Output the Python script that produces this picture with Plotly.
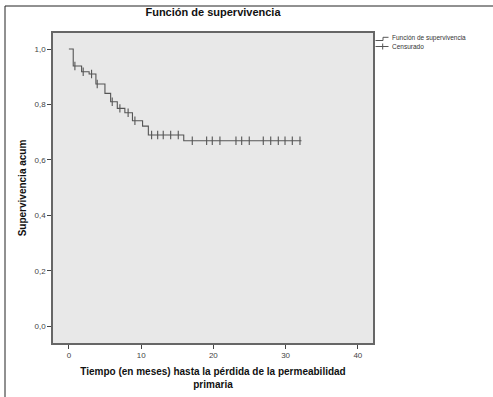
import plotly.graph_objects as go

# Kaplan-Meier step data (event times and survival after each event)
event_times = [0, 0.6, 1.76, 2.8, 3.74, 4.99, 5.78, 6.7, 7.75, 8.8, 10.2, 11.0, 15.9, 32.2]
survival = [1.0, 0.939, 0.918, 0.910, 0.874, 0.840, 0.810, 0.786, 0.770, 0.741, 0.722, 0.690, 0.669, 0.669]

# Censored observations
censor_times = [0.83, 1.98, 3.14, 3.92, 6.0, 7.06, 8.2, 9.14,
                11.45, 12.29, 13.06, 14.09, 15.14,
                17.08, 19.07, 19.85, 20.91, 23.13, 23.92, 24.97,
                26.91, 27.94, 28.99, 29.92, 30.93, 31.99]
censor_surv = [0.939, 0.918, 0.910, 0.874, 0.810, 0.786, 0.770, 0.741,
               0.690, 0.690, 0.690, 0.690, 0.690,
               0.669, 0.669, 0.669, 0.669, 0.669, 0.669, 0.669,
               0.669, 0.669, 0.669, 0.669, 0.669, 0.669]

x_ticks = [0, 10, 20, 30, 40]
y_ticks = [0.0, 0.2, 0.4, 0.6, 0.8, 1.0]
y_tick_labels = ["0,0", "0,2", "0,4", "0,6", "0,8", "1,0"]
legend_labels = ["Función de supervivencia", "Censurado"]

W, H = 493, 397
ml, mr, mt, mb = 53, 120, 33, 54
pw, ph = W - ml - mr, H - mt - mb

def px(x):
    return (x - ml) / pw

def py(y):
    return (H - mb - y) / ph

curve_col = "#555555"
font = "Liberation Sans, Arial, sans-serif"

fig = go.Figure()
fig.add_trace(go.Scatter(
    x=event_times, y=survival, mode="lines", line=dict(shape="hv", color=curve_col, width=1.1),
    name=legend_labels[0], hoverinfo="skip", showlegend=False))
fig.add_trace(go.Scatter(
    x=censor_times, y=censor_surv, mode="markers",
    marker=dict(symbol="line-ns", size=6, line=dict(color=curve_col, width=1.1)),
    name=legend_labels[1], showlegend=False, hoverinfo="skip"))

lc = dict(color=curve_col, width=1)
shapes = [
    # outer frame (top and left edges)
    dict(type="line", xref="paper", yref="paper", x0=px(5), x1=px(493), y0=py(6), y1=py(6),
         line=dict(color="#222", width=1)),
    dict(type="line", xref="paper", yref="paper", x0=px(5), x1=px(5), y0=py(6), y1=py(397),
         line=dict(color="#222", width=1)),
    # legend icons
    dict(type="path", xref="paper", yref="paper",
         path=f"M {px(375.5)} {py(40.5)} L {px(383)} {py(40.5)} L {px(383)} {py(37.3)} L {px(388.5)} {py(37.3)}",
         line=lc),
    dict(type="line", xref="paper", yref="paper", x0=px(375.5), x1=px(388.5), y0=py(46.5), y1=py(46.5), line=lc),
    dict(type="line", xref="paper", yref="paper", x0=px(382.7), x1=px(382.7), y0=py(43.5), y1=py(49.5), line=lc),
]
annotations = [
    dict(text=legend_labels[0], xref="paper", yref="paper", x=px(389.5), y=py(38.5),
         xanchor="left", yanchor="middle", showarrow=False, font=dict(size=6.5, color="#333")),
    dict(text=legend_labels[1], xref="paper", yref="paper", x=px(389.5), y=py(46.5),
         xanchor="left", yanchor="middle", showarrow=False, font=dict(size=6.5, color="#333")),
]

fig.update_layout(
    width=W, height=H,
    margin=dict(l=ml, r=mr, t=mt, b=mb, autoexpand=False),
    paper_bgcolor="white", plot_bgcolor="#e8e8e8",
    font=dict(family=font, color="#222"),
    title=dict(text="<b>Función de supervivencia</b>", x=px(213), xref="paper", xanchor="center",
               y=1 - 12 / H, yanchor="middle", font=dict(size=11, color="#111")),
    showlegend=False,
    xaxis=dict(range=[-2.2, 42.1], tickvals=x_ticks, ticks="outside", ticklen=4, automargin=False,
               tickcolor="#444", showgrid=False, zeroline=False, showline=True, mirror=True,
               linecolor="#666", linewidth=1.5, tickfont=dict(size=8, color="#444"),
               title=dict(text="<b>Tiempo (en meses) hasta la pérdida de la permeabilidad<br>primaria</b>",
                          font=dict(size=10, color="#111"), standoff=9)),
    yaxis=dict(range=[-0.061, 1.058], tickvals=y_ticks, ticktext=y_tick_labels, ticks="outside",
               ticklen=4, tickcolor="#444", showgrid=False, zeroline=False, showline=True, automargin=False,
               mirror=True, linecolor="#666", linewidth=1.5, tickfont=dict(size=8, color="#444"),
               title=dict(text="<b>Supervivencia acum</b>", font=dict(size=10, color="#111"), standoff=6)),
    shapes=shapes,
    annotations=annotations,
)

fig.write_html("out.html", config={"displayModeBar": False},
               post_script="document.body.style.margin='0';")
